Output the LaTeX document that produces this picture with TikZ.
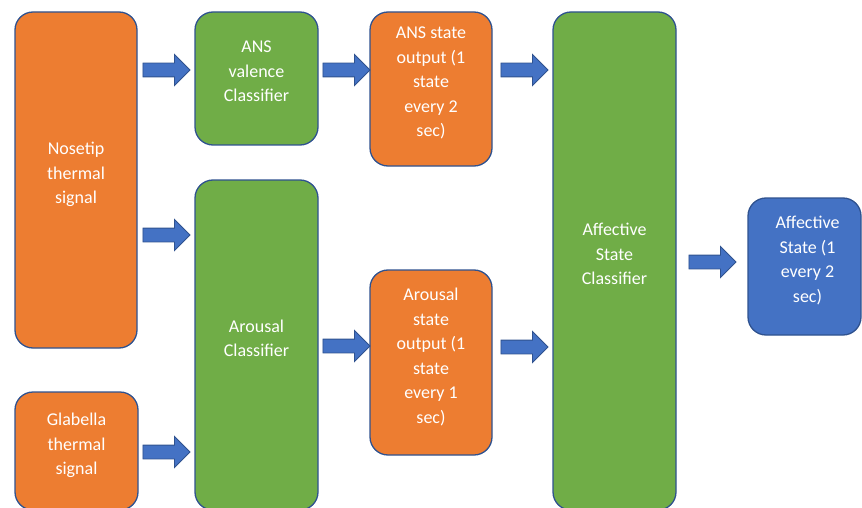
\documentclass[tikz,border=0pt]{standalone}
\usepackage{fontspec}
\setmainfont{Carlito}
\usetikzlibrary{shapes.arrows}
\definecolor{offorange}{HTML}{ED7D31}
\definecolor{offgreen}{HTML}{70AD47}
\definecolor{offblue}{HTML}{4472C4}
\definecolor{offline}{HTML}{2F528F}
\tikzset{
  box/.style={draw=offline, line width=1.3pt, rounded corners=18pt, text=white, align=center,
    font=\fontsize{18pt}{24.5pt}\selectfont, inner sep=0pt, text depth=14pt},
  obox/.style={box, fill=offorange},
  gbox/.style={box, fill=offgreen},
  bbox/.style={box, fill=offblue},
  barrow/.style={single arrow, draw=offline, line width=0.9pt, fill=offblue, inner sep=6.5pt,
    minimum height=47pt, minimum width=30pt, single arrow head extend=8.5pt, single arrow tip angle=90}
}
\begin{document}
\begin{tikzpicture}[x=1pt,y=-1pt]
\useasboundingbox (0,0) rectangle (862,508);
\node[obox, minimum width=122pt, minimum height=336pt] (nose) at (76,180) {Nosetip\\thermal\\signal};
\node[obox, minimum width=123pt, minimum height=118pt] (glab) at (76.5,451) {Glabella\\thermal\\signal};
\node[gbox, minimum width=123pt, minimum height=133pt] (ansv) at (256.5,78.5) {ANS\\valence\\Classifier};
\node[gbox, minimum width=123pt, minimum height=330pt] (arcl) at (256.5,345) {Arousal\\Classifier};
\node[obox, minimum width=122pt, minimum height=154pt] (anso) at (431,89) {ANS state\\output (1\\state\\every 2\\sec)};
\node[obox, minimum width=122pt, minimum height=185pt] (aros) at (431,362.5) {Arousal\\state\\output (1\\state\\every 1\\sec)};
\node[gbox, minimum width=123pt, minimum height=498pt] (affc) at (614.5,261) {Affective\\State\\Classifier};
\node[bbox, minimum width=113pt, minimum height=137pt] (affs) at (804.5,266.5) {\hspace*{6pt}Affective\\\hspace*{6pt}State (1\\\hspace*{6pt}every 2\\\hspace*{6pt}sec)};
\node[barrow] (a1) at (163,70) {};
\node[barrow] (a2) at (163,235) {};
\node[barrow] (a3) at (163,452) {};
\node[barrow] (a4) at (343,70) {};
\node[barrow] (a5) at (343,346) {};
\node[barrow] (a6) at (521,70) {};
\node[barrow] (a7) at (521,347) {};
\node[barrow] (a8) at (709,262) {};
\end{tikzpicture}
\end{document}
